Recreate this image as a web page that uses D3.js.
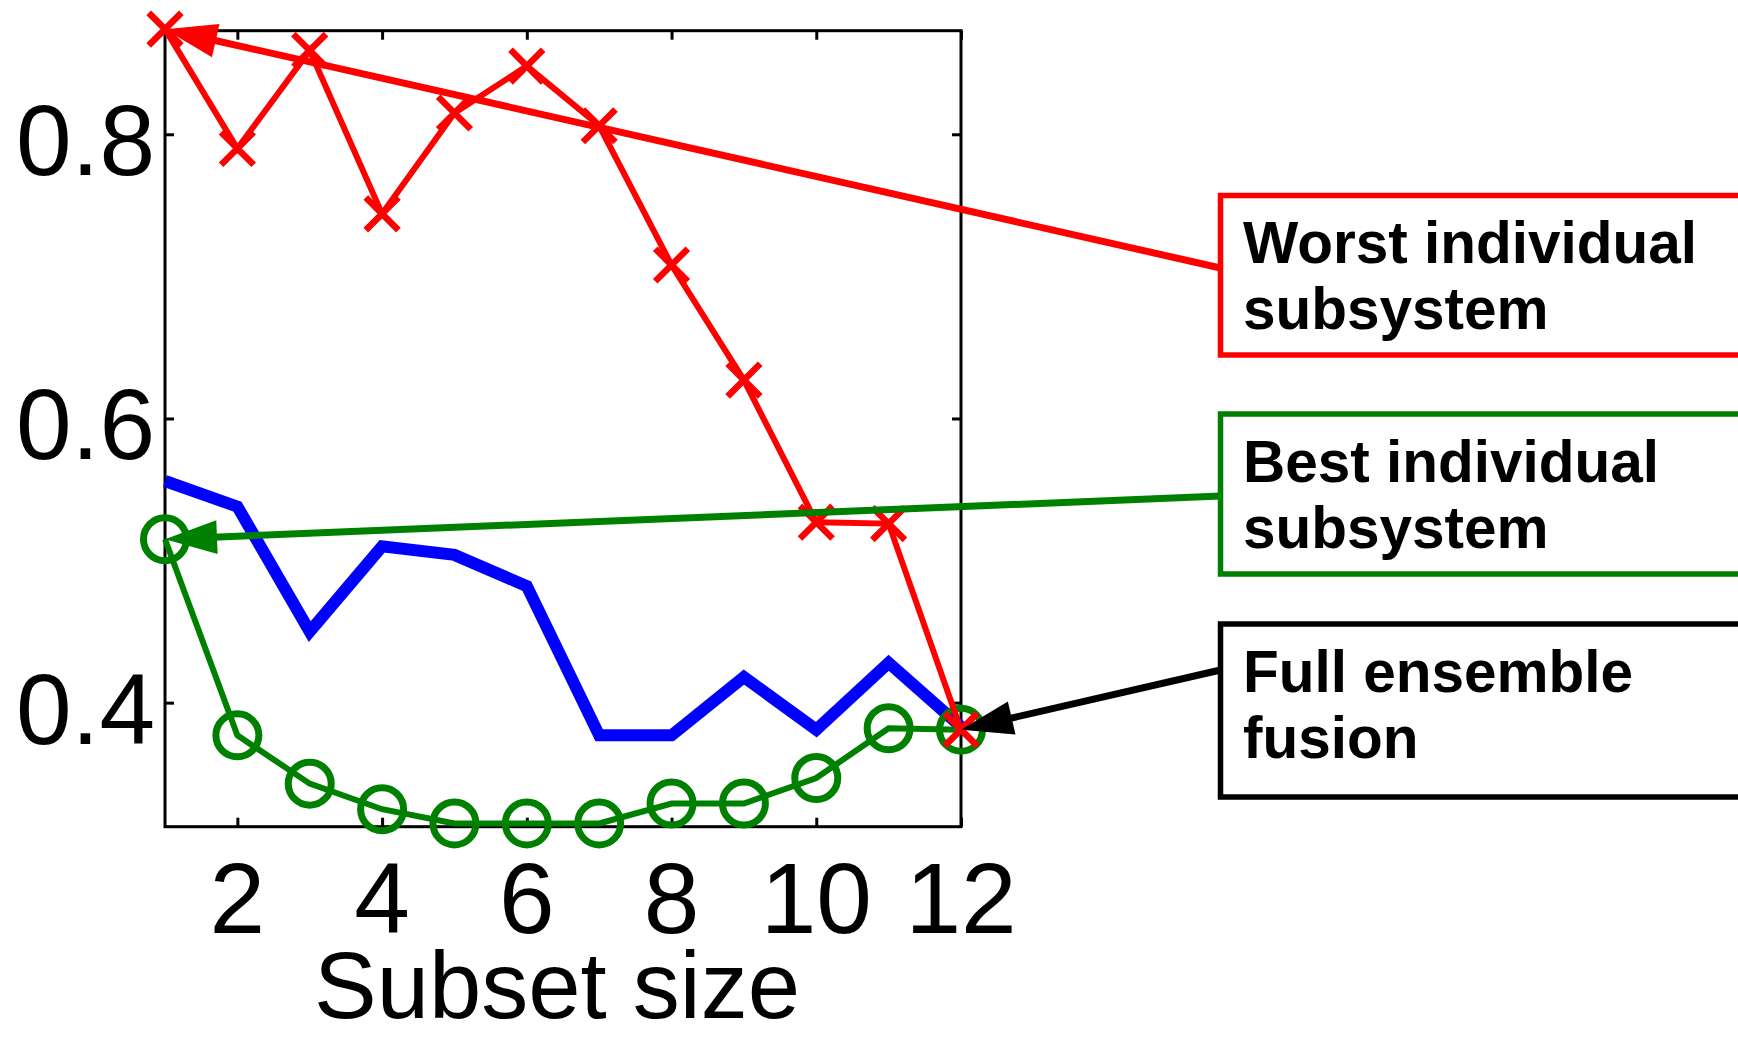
<!DOCTYPE html>
<html>
<head>
<meta charset="utf-8">
<script src="https://cdn.jsdelivr.net/npm/d3@7"></script>
<style>
  body { margin: 0; background: #fff; }
  text { font-family: "Liberation Sans", Arial, Helvetica, sans-serif; }
</style>
</head>
<body>
<div id="chart"></div>
<script>
// Subset size on the x axis
const subsetSize = [1, 2, 3, 4, 5, 6, 7, 8, 9, 10, 11, 12];

// Worst individual subsystem (red, x markers)
const worstValues = [0.874, 0.790, 0.859, 0.744, 0.815, 0.848, 0.806, 0.708, 0.627, 0.527, 0.526, 0.381];

// Average over subsets (thick blue line)
const meanValues = [0.556, 0.538, 0.450, 0.510, 0.504, 0.482, 0.377, 0.377, 0.418, 0.381, 0.428, 0.383];

// Best individual subsystem (green, circle markers)
const bestValues = [0.515, 0.377, 0.343, 0.325, 0.315, 0.315, 0.315, 0.329, 0.329, 0.347, 0.382, 0.381];

const xTicks = [2, 4, 6, 8, 10, 12];
const yTicks = [0.4, 0.6, 0.8];

const annotations = [
  { lines: ["Worst individual", "subsystem"], color: "#ff0000", series: worstValues, index: 0 },
  { lines: ["Best individual", "subsystem"], color: "#008000", series: bestValues, index: 0 },
  { lines: ["Full ensemble", "fusion"], color: "#000000", series: worstValues, index: 11 }
];

const width = 1738, height = 1038;
const plot = { left: 165, right: 961, top: 30.7, bottom: 826.7 };

const svg = d3.select("#chart").append("svg")
  .attr("width", width)
  .attr("height", height)
  .style("display", "block");

svg.append("rect").attr("width", width).attr("height", height).attr("fill", "#fff");

const x = d3.scaleLinear().domain([1, 12]).range([plot.left, plot.right]);
const y = d3.scaleLinear().domain([0.3127, 0.8729]).range([plot.bottom, plot.top]);

// Axes box with inward ticks on all sides
const tickLen = 9;
const axisG = svg.append("g");

axisG.append("g")
  .attr("transform", `translate(0,${plot.bottom})`)
  .call(d3.axisBottom(x).tickValues(xTicks).tickSize(-tickLen).tickFormat(""))
  .call(g => g.select(".domain").remove());
axisG.append("g")
  .attr("transform", `translate(0,${plot.top})`)
  .call(d3.axisTop(x).tickValues(xTicks).tickSize(-tickLen).tickFormat(""))
  .call(g => g.select(".domain").remove());
axisG.append("g")
  .attr("transform", `translate(${plot.left},0)`)
  .call(d3.axisLeft(y).tickValues(yTicks).tickSize(-tickLen).tickFormat(""))
  .call(g => g.select(".domain").remove());
axisG.append("g")
  .attr("transform", `translate(${plot.right},0)`)
  .call(d3.axisRight(y).tickValues(yTicks).tickSize(-tickLen).tickFormat(""))
  .call(g => g.select(".domain").remove());
axisG.selectAll(".tick line").attr("stroke", "#000").attr("stroke-width", 3);

axisG.append("rect")
  .attr("x", plot.left).attr("y", plot.top)
  .attr("width", plot.right - plot.left).attr("height", plot.bottom - plot.top)
  .attr("fill", "none").attr("stroke", "#000").attr("stroke-width", 3);

// Tick labels
svg.append("g").selectAll("text")
  .data(xTicks)
  .join("text")
  .attr("x", d => x(d))
  .attr("y", 933)
  .attr("text-anchor", "middle")
  .attr("font-size", 100)
  .attr("fill", "#000")
  .text(d => d);

svg.append("g").selectAll("text")
  .data(yTicks)
  .join("text")
  .attr("x", 155)
  .attr("y", d => y(d) + 41)
  .attr("text-anchor", "end")
  .attr("font-size", 100)
  .attr("fill", "#000")
  .text(d => d3.format(".1f")(d));

svg.append("text")
  .attr("x", 557)
  .attr("y", 1018)
  .attr("text-anchor", "middle")
  .attr("font-size", 94)
  .attr("fill", "#000")
  .text("Subset size");

// Series
const line = d3.line().x((d, i) => x(subsetSize[i])).y(d => y(d));

svg.append("path")
  .datum(meanValues)
  .attr("d", line)
  .attr("fill", "none")
  .attr("stroke", "#0000ff")
  .attr("stroke-width", 12);

svg.append("path")
  .datum(bestValues)
  .attr("d", line)
  .attr("fill", "none")
  .attr("stroke", "#008000")
  .attr("stroke-width", 6);

svg.append("g").selectAll("circle")
  .data(bestValues)
  .join("circle")
  .attr("cx", (d, i) => x(subsetSize[i]))
  .attr("cy", d => y(d))
  .attr("r", 21.5)
  .attr("fill", "none")
  .attr("stroke", "#008000")
  .attr("stroke-width", 7);

svg.append("path")
  .datum(worstValues)
  .attr("d", line)
  .attr("fill", "none")
  .attr("stroke", "#ff0000")
  .attr("stroke-width", 6);

const xm = 14;
svg.append("g").selectAll("path")
  .data(worstValues)
  .join("path")
  .attr("d", (d, i) => {
    const cx = x(subsetSize[i]), cy = y(d);
    return `M${cx - xm},${cy - xm}L${cx + xm},${cy + xm}M${cx - xm},${cy + xm}L${cx + xm},${cy - xm}`;
  })
  .attr("stroke", "#ff0000")
  .attr("stroke-linecap", "square")
  .attr("stroke-width", 6.5);

// Annotation boxes and arrows
const boxLeft = 1220.5;
const boxes = [
  { top: 195.5, bottom: 355, attachY: 268, firstBaseline: 263 },
  { top: 414, bottom: 574, attachY: 496, firstBaseline: 482 },
  { top: 624, bottom: 797, attachY: 670, firstBaseline: 692 }
];

annotations.forEach((a, k) => {
  const b = boxes[k];
  const tipX = x(subsetSize[a.index]);
  const tipY = y(a.series[a.index]);
  const dx = tipX - boxLeft, dy = tipY - b.attachY;
  const len = Math.hypot(dx, dy);
  const ux = dx / len, uy = dy / len;
  const headLen = 52, headHalf = 17;
  const baseX = tipX - ux * headLen, baseY = tipY - uy * headLen;

  svg.append("line")
    .attr("x1", boxLeft).attr("y1", b.attachY)
    .attr("x2", baseX + ux * 4).attr("y2", baseY + uy * 4)
    .attr("stroke", a.color)
    .attr("stroke-width", 7);

  svg.append("path")
    .attr("d", `M${tipX},${tipY}L${baseX - uy * headHalf},${baseY + ux * headHalf}L${baseX + uy * headHalf},${baseY - ux * headHalf}Z`)
    .attr("fill", a.color);

  svg.append("rect")
    .attr("x", boxLeft).attr("y", b.top)
    .attr("width", 700).attr("height", b.bottom - b.top)
    .attr("fill", "#fff")
    .attr("stroke", a.color)
    .attr("stroke-width", 5.5);

  a.lines.forEach((t, j) => {
    svg.append("text")
      .attr("x", 1243)
      .attr("y", b.firstBaseline + j * 65.5)
      .attr("font-size", 58.5)
      .attr("font-weight", "bold")
      .attr("fill", "#000")
      .text(t);
  });
});
</script>
</body>
</html>
